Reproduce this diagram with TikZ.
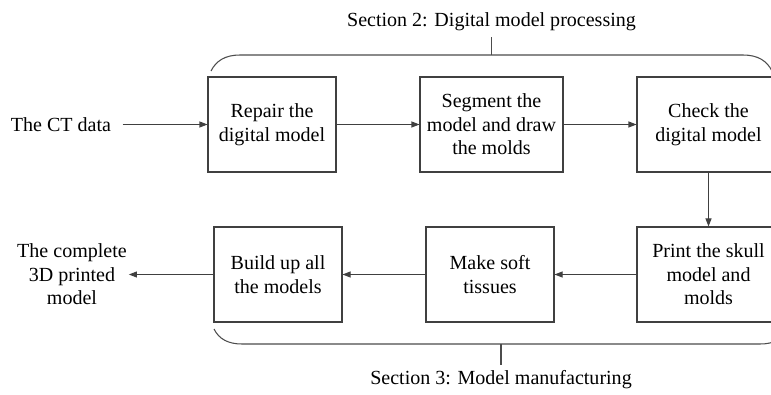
\documentclass[tikz,border=0pt]{standalone}
\usepackage{fontspec}
\setmainfont{Liberation Serif}
\usetikzlibrary{arrows.meta,positioning,calc}
\newcommand{\mainsize}{\fontsize{11.4}{13.4}\selectfont}
\tikzset{
  stepbox/.style={draw=black!75,rectangle,line width=0.6pt,minimum width=2.56cm,minimum height=1.9cm,align=center,font=\mainsize},
  widebox/.style={stepbox,minimum width=2.86cm},
  arr/.style={-{Triangle[length=1.6mm,width=1.2mm]},draw=black!75,line width=0.6pt},
  brk/.style={draw=black!70,line width=0.6pt},
  lbl/.style={align=center,font=\mainsize}
}
\begin{document}
\begin{tikzpicture}
  \useasboundingbox (0,0) rectangle (15.42,7.88);
  % Section 2: top row
  \node[lbl] (ct) at (1.22,5.39) {The CT data};
  \node[stepbox] (repair) at (5.44,5.39) {Repair the\\digital model};
  \node[widebox] (segment) at (9.83,5.39) {Segment the\\model and draw\\the molds};
  \node[widebox] (check) at (14.17,5.39) {Check the\\digital model};

  % Section 3: bottom row
  \node[widebox] (print) at (14.17,2.39) {Print the skull\\model and\\molds};
  \node[stepbox] (tissue) at (9.80,2.39) {Make soft\\tissues};
  \node[stepbox] (build) at (5.56,2.39) {Build up all\\the models};
  \node[lbl, inner sep=1pt] (final) at (1.44,2.39) {The complete\\3D printed\\model};

  % Flow
  \draw[arr] ([xshift=3pt]ct.east) -- (repair.west);
  \draw[arr] (repair) -- (segment);
  \draw[arr] (segment) -- (check);
  \draw[arr] (check) -- (print);
  \draw[arr] (print) -- (tissue);
  \draw[arr] (tissue) -- (build);
  \draw[arr] (build) -- (final);

  % Section labels and brackets
  \node[lbl] (sec2) at (9.83,7.45) {Section 2: Digital model processing};
  \node[lbl] (sec3) at (10.02,0.28) {Section 3: Model manufacturing};
  \coordinate (topmid) at (9.83,6.78);
  \coordinate (botmid) at (10.02,1.0);
  \draw[brk] (4.22,6.46) .. controls (4.32,6.66) and (4.50,6.78) .. (4.80,6.78)
    -- (14.86,6.78) .. controls (15.16,6.78) and (15.34,6.66) .. (15.44,6.46);
  \draw[brk] (topmid) -- (sec2.south);
  \draw[brk] (4.28,1.30) .. controls (4.38,1.10) and (4.56,1.0) .. (4.84,1.0)
    -- (15.20,1.0) .. controls (15.48,1.0) and (15.66,1.10) .. (15.76,1.30);
  \draw[brk] (botmid) -- (sec3.north);
\end{tikzpicture}
\end{document}
